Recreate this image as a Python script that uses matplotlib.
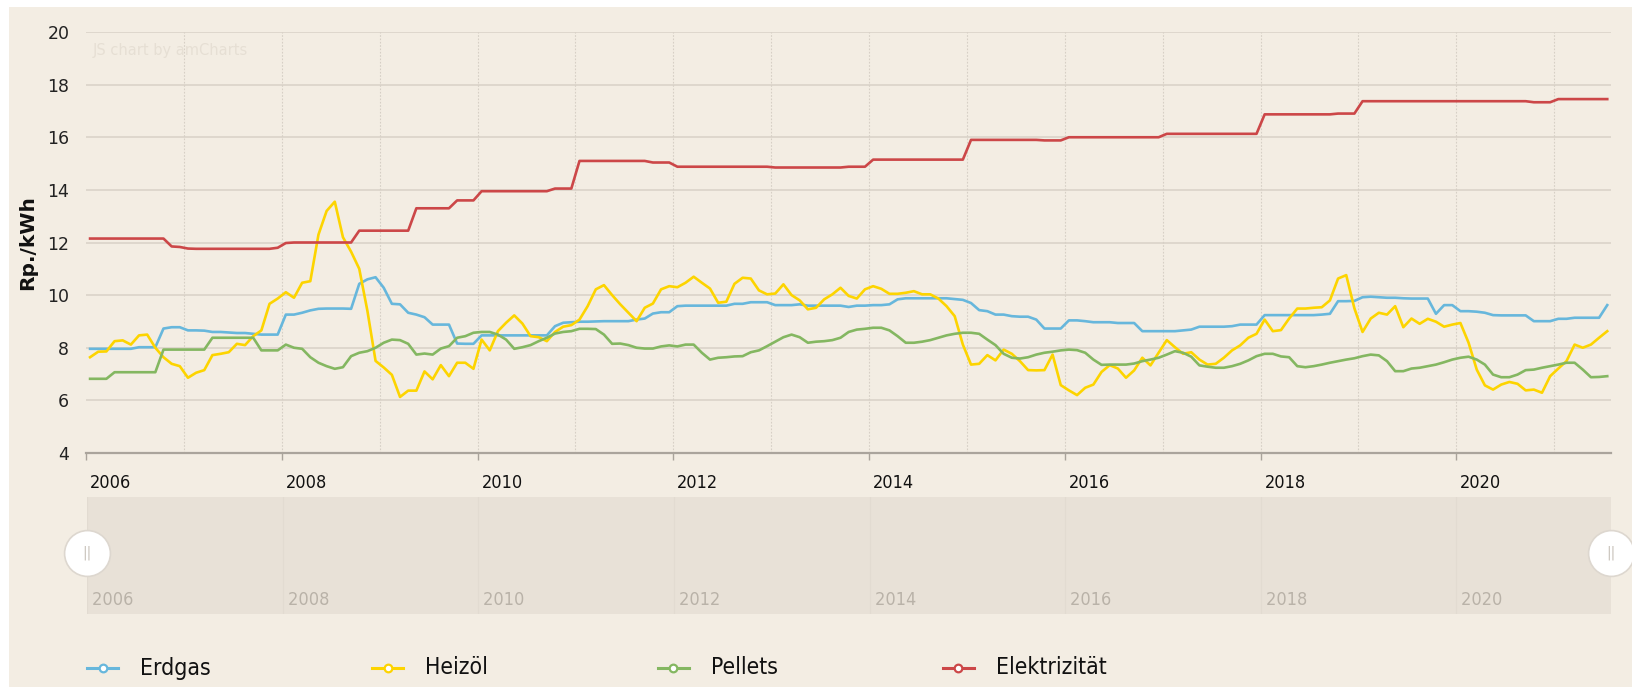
import numpy as np
import pandas as pd
import matplotlib
matplotlib.use('Agg')
import matplotlib.pyplot as plt
import matplotlib.transforms as mtransforms
from matplotlib.lines import Line2D
from matplotlib.patches import Rectangle

# monthly values Jan 2006 .. Jul 2021 (Rp./kWh)
months = pd.date_range('2006-01-01', '2021-07-01', freq='MS')

erdgas = [
    7.96, 7.96, 7.96, 7.96, 7.96, 7.96, 8.02, 8.02, 8.02, 8.73, 8.78, 8.78,
    8.66, 8.66, 8.65, 8.60, 8.60, 8.58, 8.56, 8.56, 8.53, 8.50, 8.50, 8.50,
    9.26, 9.26, 9.33, 9.42, 9.48, 9.49, 9.49, 9.49, 9.48, 10.43, 10.60, 10.68,
    10.28, 9.67, 9.65, 9.33, 9.26, 9.16, 8.88, 8.88, 8.88, 8.16, 8.15, 8.15,
    8.47, 8.47, 8.47, 8.47, 8.47, 8.47, 8.47, 8.47, 8.47, 8.82, 8.95, 8.97,
    8.99, 8.99, 9.00, 9.01, 9.01, 9.01, 9.01, 9.07, 9.11, 9.30, 9.35, 9.35,
    9.58, 9.60, 9.60, 9.60, 9.60, 9.60, 9.60, 9.67, 9.67, 9.73, 9.73, 9.73,
    9.62, 9.62, 9.62, 9.65, 9.60, 9.60, 9.60, 9.60, 9.60, 9.55, 9.60, 9.60,
    9.62, 9.62, 9.65, 9.84, 9.88, 9.88, 9.88, 9.88, 9.88, 9.88, 9.85, 9.82,
    9.70, 9.43, 9.39, 9.26, 9.26, 9.20, 9.18, 9.18, 9.07, 8.73, 8.73, 8.73,
    9.04, 9.04, 9.01, 8.97, 8.97, 8.97, 8.94, 8.94, 8.94, 8.63, 8.63, 8.63,
    8.63, 8.63, 8.66, 8.69, 8.80, 8.80, 8.80, 8.80, 8.82, 8.88, 8.88, 8.88,
    9.24, 9.24, 9.24, 9.24, 9.24, 9.24, 9.24, 9.26, 9.29, 9.77, 9.77, 9.78,
    9.92, 9.94, 9.92, 9.90, 9.90, 9.88, 9.87, 9.87, 9.87, 9.29, 9.62, 9.62,
    9.39, 9.39, 9.37, 9.33, 9.24, 9.23, 9.23, 9.23, 9.23, 9.01, 9.01, 9.01,
    9.10, 9.10, 9.14, 9.14, 9.14, 9.14, 9.62,
]

heizoel = [
    7.64, 7.85, 7.86, 8.25, 8.28, 8.12, 8.47, 8.50, 8.00, 7.64, 7.39, 7.30,
    6.86, 7.05, 7.15, 7.72, 7.77, 7.83, 8.15, 8.10, 8.44, 8.66, 9.67, 9.87,
    10.11, 9.90, 10.47, 10.53, 12.30, 13.20, 13.55, 12.20, 11.65, 11.00, 9.40, 7.50,
    7.25, 6.97, 6.13, 6.37, 6.37, 7.10, 6.80, 7.34, 6.92, 7.43, 7.43, 7.20,
    8.31, 7.90, 8.63, 8.95, 9.23, 8.92, 8.44, 8.40, 8.25, 8.60, 8.80, 8.86,
    9.07, 9.58, 10.22, 10.38, 10.00, 9.65, 9.33, 9.01, 9.52, 9.68, 10.22, 10.34,
    10.30, 10.47, 10.70, 10.47, 10.25, 9.71, 9.75, 10.43, 10.66, 10.63, 10.18, 10.03,
    10.06, 10.41, 10.00, 9.80, 9.46, 9.52, 9.84, 10.03, 10.28, 9.97, 9.87, 10.22,
    10.34, 10.24, 10.05, 10.05, 10.09, 10.15, 10.03, 10.03, 9.87, 9.58, 9.20, 8.12,
    7.36, 7.39, 7.72, 7.52, 7.93, 7.77, 7.49, 7.15, 7.14, 7.15, 7.74, 6.58,
    6.38, 6.20, 6.48, 6.60, 7.08, 7.34, 7.21, 6.86, 7.14, 7.62, 7.33, 7.81,
    8.29, 8.02, 7.77, 7.83, 7.55, 7.36, 7.39, 7.62, 7.90, 8.09, 8.38, 8.53,
    9.07, 8.63, 8.67, 9.11, 9.49, 9.49, 9.52, 9.54, 9.80, 10.63, 10.76, 9.50,
    8.60, 9.11, 9.33, 9.26, 9.58, 8.78, 9.11, 8.91, 9.10, 8.99, 8.80, 8.88,
    8.94, 8.19, 7.17, 6.57, 6.41, 6.60, 6.70, 6.63, 6.38, 6.41, 6.29, 6.92,
    7.21, 7.49, 8.12, 8.00, 8.12, 8.38, 8.63,
]

pellets = [
    6.82, 6.82, 6.82, 7.07, 7.07, 7.07, 7.07, 7.07, 7.07, 7.93, 7.93, 7.93,
    7.93, 7.93, 7.93, 8.38, 8.38, 8.38, 8.38, 8.38, 8.38, 7.90, 7.90, 7.90,
    8.12, 8.00, 7.96, 7.64, 7.43, 7.30, 7.20, 7.26, 7.68, 7.81, 7.87, 8.00,
    8.19, 8.31, 8.29, 8.15, 7.74, 7.78, 7.74, 7.97, 8.06, 8.38, 8.44, 8.57,
    8.60, 8.60, 8.50, 8.31, 7.96, 8.02, 8.10, 8.25, 8.38, 8.54, 8.60, 8.63,
    8.72, 8.72, 8.71, 8.50, 8.15, 8.16, 8.10, 8.00, 7.97, 7.97, 8.05, 8.09,
    8.05, 8.12, 8.12, 7.81, 7.55, 7.62, 7.64, 7.67, 7.68, 7.83, 7.90, 8.06,
    8.23, 8.40, 8.50, 8.40, 8.19, 8.23, 8.25, 8.29, 8.38, 8.60, 8.69, 8.72,
    8.76, 8.76, 8.66, 8.44, 8.19, 8.19, 8.23, 8.29, 8.38, 8.47, 8.53, 8.57,
    8.57, 8.53, 8.31, 8.10, 7.77, 7.62, 7.59, 7.64, 7.74, 7.81, 7.85, 7.90,
    7.93, 7.91, 7.81, 7.55, 7.35, 7.36, 7.36, 7.36, 7.40, 7.49, 7.55, 7.62,
    7.74, 7.87, 7.81, 7.66, 7.33, 7.28, 7.24, 7.24, 7.30, 7.39, 7.52, 7.68,
    7.77, 7.77, 7.67, 7.64, 7.30, 7.26, 7.30, 7.36, 7.43, 7.49, 7.55, 7.60,
    7.68, 7.74, 7.71, 7.49, 7.11, 7.11, 7.21, 7.24, 7.30, 7.36, 7.45, 7.55,
    7.62, 7.66, 7.55, 7.36, 6.98, 6.88, 6.88, 6.98, 7.15, 7.17, 7.24, 7.30,
    7.36, 7.43, 7.43, 7.17, 6.88, 6.89, 6.92,
]

elektrizitaet = [
    12.15, 12.15, 12.15, 12.15, 12.15, 12.15, 12.15, 12.15, 12.15, 12.15, 11.85, 11.83,
    11.77, 11.76, 11.76, 11.76, 11.76, 11.76, 11.76, 11.76, 11.76, 11.76, 11.76, 11.80,
    11.98, 12.00, 12.00, 12.00, 12.00, 12.00, 12.00, 12.00, 12.00, 12.45, 12.45, 12.45,
    12.45, 12.45, 12.45, 12.45, 13.30, 13.30, 13.30, 13.30, 13.30, 13.60, 13.60, 13.60,
    13.95, 13.95, 13.95, 13.95, 13.95, 13.95, 13.95, 13.95, 13.95, 14.05, 14.05, 14.05,
    15.10, 15.10, 15.10, 15.10, 15.10, 15.10, 15.10, 15.10, 15.10, 15.04, 15.04, 15.04,
    14.88, 14.88, 14.88, 14.88, 14.88, 14.88, 14.88, 14.88, 14.88, 14.88, 14.88, 14.88,
    14.85, 14.85, 14.85, 14.85, 14.85, 14.85, 14.85, 14.85, 14.85, 14.88, 14.88, 14.88,
    15.15, 15.15, 15.15, 15.15, 15.15, 15.15, 15.15, 15.15, 15.15, 15.15, 15.15, 15.15,
    15.90, 15.90, 15.90, 15.90, 15.90, 15.90, 15.90, 15.90, 15.90, 15.88, 15.88, 15.88,
    16.00, 16.00, 16.00, 16.00, 16.00, 16.00, 16.00, 16.00, 16.00, 16.00, 16.00, 16.00,
    16.13, 16.13, 16.13, 16.13, 16.13, 16.13, 16.13, 16.13, 16.13, 16.13, 16.13, 16.13,
    16.87, 16.87, 16.87, 16.87, 16.87, 16.87, 16.87, 16.87, 16.87, 16.90, 16.90, 16.90,
    17.37, 17.37, 17.37, 17.37, 17.37, 17.37, 17.37, 17.37, 17.37, 17.37, 17.37, 17.37,
    17.37, 17.37, 17.37, 17.37, 17.37, 17.37, 17.37, 17.37, 17.37, 17.33, 17.33, 17.33,
    17.45, 17.45, 17.45, 17.45, 17.45, 17.45, 17.45,
]

series_names = ['Erdgas', 'Heizöl', 'Pellets', 'Elektrizität']
series_colors = ['#67b7dc', '#fdd400', '#84b761', '#cc4748']
year_ticks = [2006, 2008, 2010, 2012, 2014, 2016, 2018, 2020]
y_ticks = [4, 6, 8, 10, 12, 14, 16, 18, 20]

BG = '#f3ede3'
SCROLL_BG = '#e8e1d7'
W, H = 1632, 687


def fx(px):
    return px / W


def fy(py):
    return 1 - py / H


# points sit in the middle of each month, like amCharts does
xpos = months.year + (months.month - 0.5) / 12.0
x_min, x_max = 2006.0, 2021.58

fig = plt.figure(figsize=(W / 100, H / 100), dpi=100, facecolor='white')
fig.patches.append(Rectangle((fx(9), 0), 1 - fx(9), fy(7), transform=fig.transFigure,
                             facecolor=BG, edgecolor='none', zorder=-10))

# main plot
ax = fig.add_axes([fx(86), fy(453), fx(1611) - fx(86), fy(32) - fy(453)])
ax.set_facecolor('none')
for vals, name, col in zip([erdgas, heizoel, pellets, elektrizitaet], series_names, series_colors):
    ax.plot(xpos, vals, color=col, lw=1.9, solid_joinstyle='round', label=name, zorder=3)

ax.set_xlim(x_min, x_max)
ax.set_ylim(4, 20)
ax.set_yticks(y_ticks)
ax.set_yticklabels([str(v) for v in y_ticks], fontsize=12.5, color='#222222')
ax.tick_params(axis='y', length=0, pad=12)
for v in y_ticks[1:]:
    ax.axhline(v, color='#d8d1c7', lw=1.1, zorder=1)
for yr in range(2007, 2022):
    ax.axvline(yr, color='#d6cfc5', lw=0.8, ls=(0, (1.5, 1.5)), zorder=1)

ax.set_xticks(year_ticks)
ax.set_xticklabels([str(y) for y in year_ticks], fontsize=13, color='#111111',
                   fontstretch='condensed')
ax.tick_params(axis='x', length=5, width=1, color='#a9a39b', pad=10)
shift = mtransforms.ScaledTranslation(4 / 100, 0, fig.dpi_scale_trans)
for lab in ax.get_xticklabels():
    lab.set_horizontalalignment('left')
    lab.set_transform(lab.get_transform() + shift)

for s in ['top', 'right', 'left']:
    ax.spines[s].set_visible(False)
ax.spines['bottom'].set_color('#aaa49c')
ax.spines['bottom'].set_linewidth(1.6)

# axis title, placed in figure space
fig.text(fx(28), (fy(32) + fy(453)) / 2, 'Rp./kWh', rotation=90, fontsize=14.5,
         fontweight='bold', color='#111111', ha='center', va='center')

fig.text(fx(93), fy(51), 'JS chart by amCharts', fontsize=10.5,
         color='#e6dfd4', va='center', ha='left')

# scrollbar strip
sb = fig.add_axes([fx(87), fy(614), fx(1611) - fx(87), fy(497) - fy(614)])
sb.set_facecolor(SCROLL_BG)
sb.set_xlim(x_min, x_max)
sb.set_ylim(0, 1)
for s in sb.spines.values():
    s.set_visible(False)
sb.set_xticks([])
sb.set_yticks([])
for yr in year_ticks:
    sb.axvline(yr, color='#e2dbd1', lw=0.8)
    sb.text(yr, 0.12, ' ' + str(yr), fontsize=13, color='#b9b2a8', ha='left', va='center',
            fontstretch='condensed')
for hx in [x_min, x_max]:
    sb.plot([hx], [0.52], marker='o', ms=33, mfc='white', mec='#ddd7cf', mew=1.2,
            clip_on=False, zorder=5)
    sb.text(hx, 0.52, '||', fontsize=10, color='#c8c2ba', ha='center', va='center', zorder=6)

# legend
leg_y = fy(668)
for i, (name, col) in enumerate(zip(series_names, series_colors)):
    x0 = 87 + i * 285.3
    fig.add_artist(Line2D([fx(x0), fx(x0 + 31)], [leg_y, leg_y], transform=fig.transFigure,
                          color=col, lw=2.2))
    fig.add_artist(Line2D([fx(x0 + 15.5)], [leg_y], transform=fig.transFigure, marker='o',
                          ms=5.5, mfc='white', mec=col, mew=1.6, color=col))
    fig.text(fx(x0 + 53), leg_y, name, fontsize=16.5, color='#111111', va='center', ha='left',
             fontstretch='condensed')

fig.savefig('out.png', dpi=100, facecolor=fig.get_facecolor())
